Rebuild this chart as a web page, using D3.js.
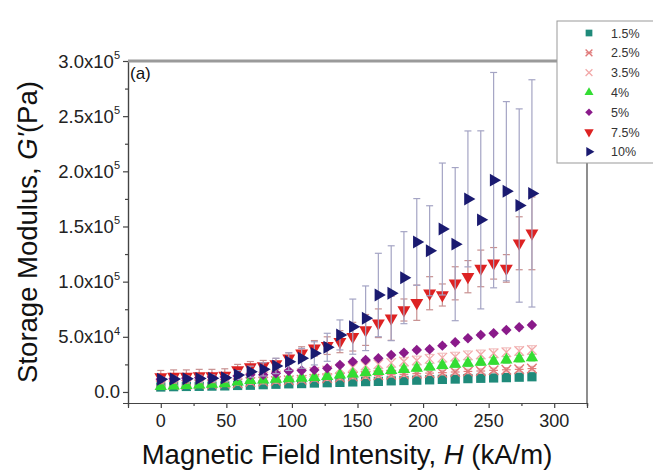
<!DOCTYPE html>
<html><head><meta charset="utf-8">
<script src="https://cdn.jsdelivr.net/npm/d3@7"></script>
<style>
html,body{margin:0;padding:0;background:#fff;}
svg{display:block;font-family:"Liberation Sans",Arial,sans-serif;}
</style></head>
<body><svg id="c" width="653" height="473"></svg>
<script>
// Magnetic field intensity H (kA/m)
const H = [0, 9.8, 19.5, 29.3, 39, 48.8, 58.6, 68.3, 78.1, 87.8, 97.6, 107.4, 117.1, 126.9, 136.6,
           146.4, 156.2, 165.9, 175.7, 185.4, 195.2, 205, 214.7, 224.5, 234.2, 244, 253.8, 263.5, 273.3, 283];
// Storage modulus (kPa) per concentration
const g15 = [4.5, 4.8, 5.0, 5.1, 5.3, 5.5, 5.9, 6.1, 6.6, 7.0, 7.4, 7.6, 8.1, 8.4, 8.7, 9.1, 9.4, 9.6, 10.1, 10.4, 10.7, 11.0, 11.4, 11.7, 12.1, 12.4, 12.7, 13.0, 13.4, 13.8];
const g25 = [6.0, 6.2, 6.6, 7.0, 7.1, 7.5, 8.0, 9.0, 9.4, 10.0, 10.6, 11.1, 12.0, 12.4, 13.1, 14.0, 14.4, 15.1, 15.6, 16.0, 16.6, 17.1, 17.5, 18.1, 18.6, 19.0, 19.6, 20.1, 20.5, 21.2];
const g35 = [8.0, 8.6, 9.0, 9.4, 10.0, 10.2, 11.0, 13.0, 14.1, 15.0, 16.2, 17.0, 18.1, 19.5, 21.0, 22.4, 24.0, 25.1, 26.4, 27.6, 28.5, 30.0, 31.1, 32.0, 33.2, 34.0, 35.1, 36.0, 37.1, 38.0];
const g4  = [5.0, 5.5, 6.0, 6.4, 7.0, 7.5, 9.0, 10.5, 11.0, 11.6, 12.0, 12.6, 13.1, 14.0, 15.5, 16.4, 17.5, 18.6, 19.5, 20.4, 21.5, 22.6, 24.0, 25.1, 26.0, 27.1, 28.0, 29.0, 30.1, 31.0];
const g5  = [11.5, 12.0, 12.5, 13.0, 13.5, 13.5, 14.5, 15.5, 15.5, 17.0, 19.0, 19.5, 20.0, 21.5, 24.5, 27.5, 29.0, 30.5, 33.5, 35.6, 38.0, 38.7, 42.0, 45.0, 48.7, 51.7, 53.2, 56.2, 58.6, 60.7];
const g75 = [13.5, 14.0, 14.0, 14.5, 14.5, 15.0, 20.0, 22.6, 23.6, 25.4, 30.5, 35.0, 39.6, 42.0, 45.6, 50.1, 56.2, 62.3, 66.8, 74.3, 80.9, 89.5, 87.9, 98.5, 104.5, 112.0, 116.6, 112.0, 134.8, 143.8];
const g10 = [11.5, 11.8, 12.0, 12.2, 12.5, 12.8, 15.4, 18.4, 20.5, 23.6, 27.5, 30.5, 35.0, 40.5, 51.7, 59.2, 66.8, 87.9, 89.5, 103.6, 136.0, 128.0, 147.7, 134.0, 175.0, 156.0, 192.0, 182.0, 169.0, 180.0];
// Error (kPa)
const e15 = [1, 1, 1, 1, 1, 1, 1, 1, 1, 1, 1, 1, 1, 1, 1, 1, 1, 1, 1, 1, 1, 1, 1, 1, 1, 1, 1, 1, 1, 1];
const e25 = [2, 2, 2, 2, 2, 2, 2, 2, 2, 2, 2, 2, 2, 2, 2, 2, 2, 2, 2, 2, 2, 2, 2, 2, 2, 2, 2, 2, 2, 2];
const e35 = [3, 3, 3, 3, 3, 3, 3, 3, 3, 3, 3, 3, 3, 3, 3, 3, 3.5, 3.5, 3.5, 3.5, 4, 4, 4, 4, 4, 4, 4, 4, 4, 4];
const e4  = [2, 2, 2, 2, 2, 2, 2, 2, 2, 2, 2, 2, 2, 2, 2, 2, 2.5, 2.5, 2.5, 2.5, 3, 3, 3, 3, 3, 3, 3, 3, 3, 3];
const e5  = [1.5, 1.5, 1.5, 1.5, 1.5, 1.5, 1.5, 1.5, 1.5, 1.5, 1.5, 1.5, 1.5, 1.5, 1.5, 1.5, 1.5, 1.5, 1.5, 1.5, 1.5, 1.5, 1.5, 1.5, 1.5, 1.5, 1.5, 1.5, 1.5, 1.5];
const e75 = [6, 6, 6, 6, 6, 6, 5, 5, 5, 5, 5, 6, 7, 8, 10, 13, 14, 13, 20, 10, 16, 15, 10, 15, 14.6, 16.6, 14.3, 12.5, 24, 33];
const e10 = [2, 2.5, 2.5, 3, 3, 3, 4, 5, 6, 7, 8, 9, 10.5, 12.7, 13.6, 25, 29.3, 37.8, 43, 41.7, 39.3, 40.8, 59.8, 69.4, 61.6, 80.7, 97.6, 81.2, 87.6, 103];

const seriesNames = ["1.5%", "2.5%", "3.5%", "4%", "5%", "7.5%", "10%"];
const yTickValues = [0, 50000, 100000, 150000, 200000, 250000, 300000];
const yTickBase = ["0.0", "5.0x10", "1.0x10", "1.5x10", "2.0x10", "2.5x10", "3.0x10"];
const yTickExp = ["", "4", "5", "5", "5", "5", "5"];
const xTickValues = [0, 50, 100, 150, 200, 250, 300];

const vals = [g15, g25, g35, g4, g5, g75, g10];
const errs = [e15, e25, e35, e4, e5, e75, e10];
const colors = ["#1f8a7a", "#e07a7a", "#f2a9a9", "#33dd33", "#8a1a8a", "#dd2222", "#1a1a70"];
const barColors = ["#7fb8b0", "#e8a8a8", "#f2c4c4", "#90e090", "#b080b0", "#c89090", "#a4a4c4"];
const shapes = ["square", "asterisk", "cross", "tri", "diamond", "tridown", "triright"];

const svg = d3.select("#c");
const x = d3.scaleLinear().domain([-25, 325]).range([128, 587]);
const y = d3.scaleLinear().domain([-10000, 300000]).range([403, 61]);

// axes
const xAxis = d3.axisBottom(x).tickValues(xTickValues).tickSize(5).tickFormat("");
const xMinor = d3.axisBottom(x).tickValues([25, 75, 125, 175, 225, 275, 325]).tickSize(3).tickFormat("");
const yAxis = d3.axisLeft(y).tickValues(yTickValues).tickSize(5).tickFormat("");
const yMinor = d3.axisLeft(y).tickValues([25000, 75000, 125000, 175000, 225000, 275000]).tickSize(3).tickFormat("");

function styleAxis(g){ g.select(".domain").attr("stroke", "#444").attr("stroke-width", 1.2); g.selectAll(".tick line").attr("stroke", "#444").attr("stroke-width", 1.2); }
svg.append("g").attr("transform", "translate(0,403)").call(xAxis).call(styleAxis);
svg.append("g").attr("transform", "translate(0,403)").call(xMinor).call(styleAxis);
svg.append("g").attr("transform", "translate(128,0)").call(yAxis).call(styleAxis);
svg.append("g").attr("transform", "translate(128,0)").call(yMinor).call(styleAxis);
// right border
svg.append("line").attr("x1", 587).attr("x2", 587).attr("y1", 61).attr("y2", 403).attr("stroke", "#444").attr("stroke-width", 1.2);
// top border (grey thick)
svg.append("line").attr("x1", 128).attr("x2", 587).attr("y1", 61).attr("y2", 61).attr("stroke", "#9a9a9a").attr("stroke-width", 3);

// tick labels
svg.append("g").selectAll("text").data(xTickValues).join("text")
  .attr("x", d => x(d)).attr("y", 427).attr("text-anchor", "middle")
  .attr("font-size", 18).attr("fill", "#222").text(d => d);
const yl = svg.append("g").selectAll("text").data(yTickValues).join("text")
  .attr("x", 120).attr("y", d => y(d) + 6.5).attr("text-anchor", "end")
  .attr("font-size", 18.5).attr("fill", "#222");
yl.append("tspan").text((d, i) => yTickBase[i]);
yl.append("tspan").attr("dy", -8.5).attr("font-size", 11).text((d, i) => yTickExp[i]);

// axis titles
const xt = svg.append("text").attr("x", 347).attr("y", 464).attr("text-anchor", "middle")
  .attr("font-size", 27.5).attr("fill", "#111");
xt.append("tspan").text("Magnetic Field Intensity, ");
xt.append("tspan").attr("font-style", "italic").text("H");
xt.append("tspan").text(" (kA/m)");
const yt = svg.append("text").attr("transform", "translate(37,232) rotate(-90)").attr("text-anchor", "middle")
  .attr("font-size", 27.5).attr("fill", "#111");
yt.append("tspan").text("Storage Modulus, ");
yt.append("tspan").attr("font-style", "italic").text("G'");
yt.append("tspan").text("(Pa)");

svg.append("text").attr("x", 130).attr("y", 79).attr("font-size", 17).attr("fill", "#111").text("(a)");

// marker drawing
function marker(g, shape, color, s){
  if (shape === "square") g.append("rect").attr("x", -s*0.42).attr("y", -s*0.42).attr("width", s*0.84).attr("height", s*0.84).attr("fill", color);
  else if (shape === "tri") g.append("path").attr("d", d3.symbol(d3.symbolTriangle, s*s*0.55)).attr("fill", color);
  else if (shape === "tridown") g.append("path").attr("d", d3.symbol(d3.symbolTriangle, s*s*0.6)).attr("transform", "rotate(180)").attr("fill", color);
  else if (shape === "triright") g.append("path").attr("d", d3.symbol(d3.symbolTriangle, s*s*0.6)).attr("transform", "rotate(90)").attr("fill", color);
  else if (shape === "diamond") g.append("path").attr("d", d3.symbol(d3.symbolSquare, s*s*0.45)).attr("transform", "rotate(45)").attr("fill", color);
  else if (shape === "cross") g.append("path").attr("d", d3.symbol(d3.symbolX, s*s*0.5)).attr("fill", "none").attr("stroke", color).attr("stroke-width", 1.3);
  else if (shape === "asterisk") {
    g.append("path").attr("d", d3.symbol(d3.symbolX, s*s*0.5)).attr("fill", "none").attr("stroke", color).attr("stroke-width", 1.4);
    g.append("line").attr("x1", -s*0.4).attr("x2", s*0.4).attr("y1", 0).attr("y2", 0).attr("stroke", color).attr("stroke-width", 1.2);
  }
}

const plot = svg.append("g");
vals.forEach((arr, si) => {
  const g = plot.append("g");
  const data = arr.map((v, i) => ({h: H[i], v: v * 1000, e: errs[si][i] * 1000}));
  const eb = g.append("g").attr("stroke", barColors[si]).attr("stroke-width", 1.2);
  eb.selectAll("line.v").data(data).join("line").attr("class", "v")
    .attr("x1", d => x(d.h)).attr("x2", d => x(d.h))
    .attr("y1", d => y(d.v - d.e)).attr("y2", d => y(d.v + d.e));
  eb.selectAll("line.t").data(data).join("line").attr("class", "t")
    .attr("x1", d => x(d.h) - 3.5).attr("x2", d => x(d.h) + 3.5)
    .attr("y1", d => y(d.v + d.e)).attr("y2", d => y(d.v + d.e));
  eb.selectAll("line.b").data(data).join("line").attr("class", "b")
    .attr("x1", d => x(d.h) - 3.5).attr("x2", d => x(d.h) + 3.5)
    .attr("y1", d => y(d.v - d.e)).attr("y2", d => y(d.v - d.e));
  g.selectAll("g.m").data(data).join("g").attr("class", "m")
    .attr("transform", d => `translate(${x(d.h)},${y(d.v)})`)
    .each(function(){ marker(d3.select(this), shapes[si], colors[si], 11); });
});

// legend
const lg = svg.append("g");
lg.append("rect").attr("x", 557).attr("y", 21).attr("width", 100).attr("height", 142)
  .attr("fill", "#fff").attr("stroke", "#999").attr("stroke-width", 1);
seriesNames.forEach((n, i) => {
  const yy = 33 + i * 19.8;
  const m = lg.append("g").attr("transform", `translate(589,${yy})`);
  marker(m, shapes[i], colors[i], 8);
  lg.append("text").attr("x", 611).attr("y", yy + 4.5).attr("font-size", 12.5).attr("fill", "#333").text(n);
});
</script></body></html>
